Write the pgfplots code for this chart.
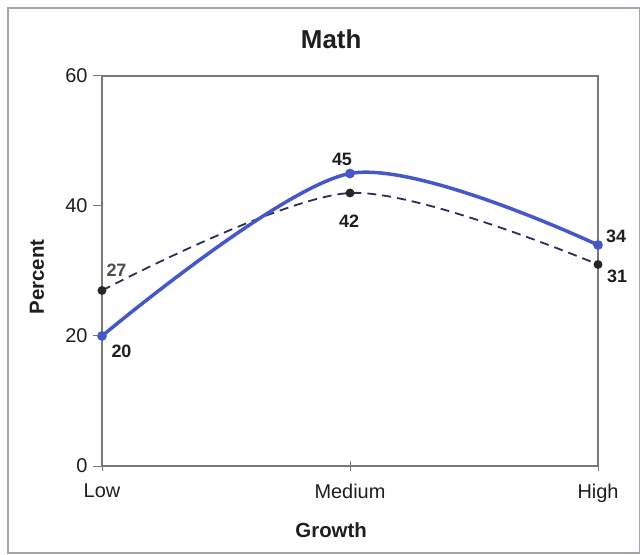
\documentclass[border=0pt]{standalone}
\usepackage{fontspec}
\setmainfont{Liberation Sans}
\usepackage{pgfplots}
\pgfplotsset{compat=1.18}
\definecolor{mblue}{RGB}{70,88,200}
\definecolor{navy}{RGB}{40,48,90}
\definecolor{txt}{RGB}{30,30,30}
\definecolor{framec}{RGB}{165,165,175}
\definecolor{axc}{RGB}{120,120,120}
\tikzset{lbl/.style={font=\bfseries\fontsize{18}{22}\selectfont, text=txt, inner sep=0pt}}
\begin{document}
\begin{tikzpicture}
\useasboundingbox (0bp,0bp) rectangle (641bp,555bp);
\fill[white] (0bp,0bp) rectangle (641bp,555bp);
\draw[framec, line width=1.5bp] (8bp,2bp) rectangle (639.5bp,547bp);
\begin{axis}[
  at={(102bp,89bp)}, anchor=south west,
  scale only axis, width=496bp, height=390bp,
  xmin=0, xmax=2, ymin=0, ymax=60,
  xtick={0,1,2}, xticklabels={Low,Medium,High},
  ytick={0,20,40,60},
  xtick pos=bottom, ytick pos=left,
  ytick align=outside, xtick align=center,
  major tick length=9bp,
  axis line style={axc, line width=1.2bp},
  tick style={axc, line width=1bp},
  /pgf/number format/assume math mode=true,
  tick label style={font=\fontsize{20}{24}\selectfont, text=txt},
  xticklabel style={yshift=-10bp},
  yticklabel style={xshift=-2bp},
  title={Math},
  title style={at={(axis description cs:0.462,1.08)}, anchor=center,
    font=\bfseries\fontsize{26}{30}\selectfont, text=txt},
  xlabel={Growth},
  xlabel style={at={(axis description cs:0.462,-0.164)}, anchor=center,
    font=\bfseries\fontsize{20.5}{24}\selectfont, text=txt},
  ylabel={Percent},
  ylabel style={at={(axis description cs:-0.131,0.485)}, anchor=center,
    font=\bfseries\fontsize{20.5}{24}\selectfont, text=txt},
  clip=false,
]
\addplot[navy, line width=1.8bp, dash pattern=on 9bp off 6bp, smooth,
  mark=*, mark size=3.5bp, mark options={solid, fill=black!85, draw=black!85}]
  coordinates {(0,27) (1,42) (2,31)};
\addplot[mblue, line width=3.5bp, smooth,
  mark=*, mark size=3bp, mark options={solid, fill=mblue}]
  coordinates {(0,20) (1,45) (2,34)};
\node[lbl, xshift=19.5bp, yshift=-15.5bp] at (axis cs:0,20) {20};
\node[lbl, text=black!70, xshift=14.5bp, yshift=20.5bp] at (axis cs:0,27) {27};
\node[lbl, xshift=-8bp, yshift=14.5bp] at (axis cs:1,45) {45};
\node[lbl, xshift=-1bp, yshift=-28bp] at (axis cs:1,42) {42};
\node[lbl, xshift=18bp, yshift=9bp] at (axis cs:2,34) {34};
\node[lbl, xshift=19bp, yshift=-12bp] at (axis cs:2,31) {31};
\end{axis}
\end{tikzpicture}
\end{document}
